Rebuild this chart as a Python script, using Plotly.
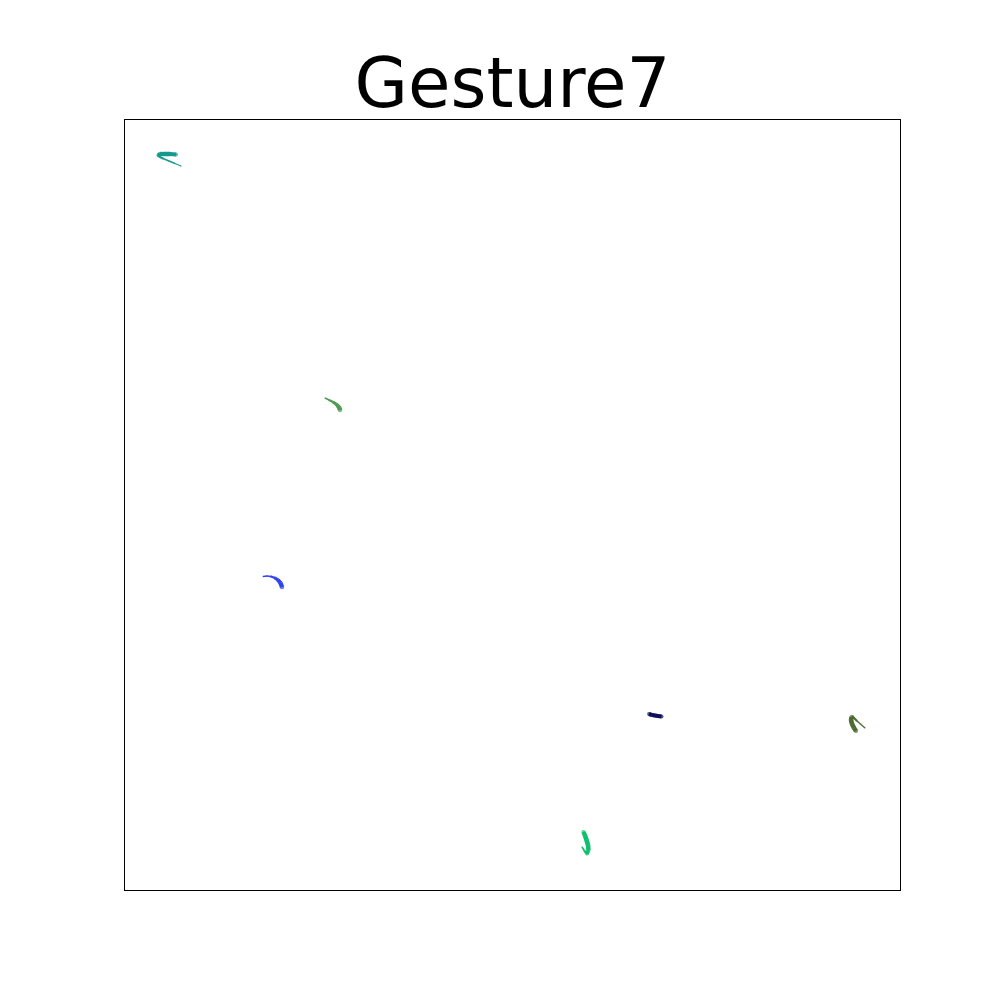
import plotly.graph_objects as go

# Stroke coordinates (x to the right, y upward; box is 775 x 770 units)
s1_x = [56, 50, 44, 38, 34, 33, 35, 40, 45, 51]
s1_y = [724, 726.5, 729, 731.5, 733.5, 735, 736, 736, 736, 735.5]
s1_w = [1.2, 1.3, 1.5, 1.8, 2.2, 3.2, 4.2, 4.5, 4.5, 4]

s2_x = [200, 204, 208, 211, 213, 214.5, 215]
s2_y = [492, 490, 488, 486, 484, 482, 480]
s2_w = [1.2, 1.8, 2.5, 3.2, 4, 4.5, 4.5]

s3_x = [138, 142, 146, 150, 153, 155.5, 157]
s3_y = [313.5, 314, 313.5, 312, 310, 307, 303]
s3_w = [1.2, 1.5, 2, 2.8, 3.6, 4.3, 4.5]

s4_x = [524, 527, 530, 533, 536.5]
s4_y = [176, 175, 174.5, 174, 173.5]
s4_w = [3.8, 4.2, 4.2, 4.2, 4]

s5_x = [740, 736, 732, 728.5, 726.5, 726, 727, 729, 731]
s5_y = [162, 165.5, 169, 172.5, 173, 170, 166, 162, 159]
s5_w = [1.2, 1.3, 1.6, 2.6, 4.2, 4.6, 4.6, 4.6, 4.2]

s6_x = [457, 459.5, 462, 463.5, 463, 461.5, 460, 458.5]
s6_y = [43, 39, 36, 40, 45, 50, 54.5, 58]
s6_w = [1.2, 2, 3, 4.2, 4.6, 4.6, 4.6, 4.2]

strokes = [
    (s1_x, s1_y, s1_w, "#16998f"),
    (s2_x, s2_y, s2_w, "#4e9a52"),
    (s3_x, s3_y, s3_w, "#3043ee"),
    (s4_x, s4_y, s4_w, "#0b0f58"),
    (s5_x, s5_y, s5_w, "#4b6b33"),
    (s6_x, s6_y, s6_w, "#10bf6c"),
]

fig = go.Figure()
for xs, ys, ws, col in strokes:
    for i in range(len(xs) - 1):
        fig.add_trace(go.Scatter(
            x=[xs[i], xs[i + 1]], y=[ys[i], ys[i + 1]], mode="lines",
            line=dict(color=col, width=(ws[i] + ws[i + 1]) / 2),
            hoverinfo="skip", showlegend=False))
    fig.add_trace(go.Scatter(
        x=xs, y=ys, mode="markers",
        marker=dict(color=col, size=ws, line=dict(width=0)),
        hoverinfo="skip", showlegend=False))

axis_common = dict(showgrid=False, zeroline=False, showticklabels=False, ticks="",
                   showline=True, linecolor="black", linewidth=1, mirror=True)
fig.update_layout(
    width=1000, height=1000,
    margin=dict(l=125, r=100, t=120, b=110),
    paper_bgcolor="white", plot_bgcolor="white",
    xaxis=dict(range=[0, 775], **axis_common),
    yaxis=dict(range=[0, 770], **axis_common),
    title=dict(text="Gesture7", x=0.5125, xanchor="center", xref="container",
               y=0.917, yanchor="middle", yref="container",
               font=dict(family="DejaVu Sans", size=69, color="black")),
)
fig.write_html("out.html")
